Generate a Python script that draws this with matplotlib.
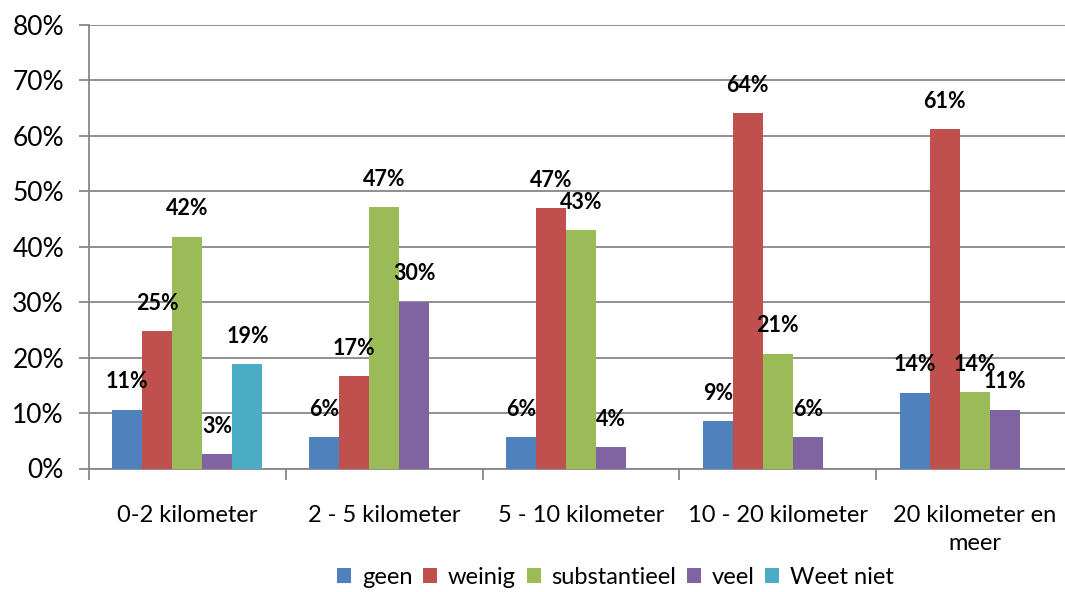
import matplotlib
matplotlib.use("Agg")
import matplotlib.pyplot as plt
import numpy as np

categories = ["0-2 kilometer", "2 - 5 kilometer", "5 - 10 kilometer", "10 - 20 kilometer", "20 kilometer en\nmeer"]
series = ["geen", "weinig", "substantieel", "veel", "Weet niet"]
geen = [10.6, 5.7, 5.7, 8.6, 13.7]
weinig = [24.8, 16.7, 47.0, 64.1, 61.2]
substantieel = [41.8, 47.1, 43.0, 20.7, 13.8]
veel = [2.6, 30.1, 3.8, 5.7, 10.6]
weet_niet = [18.8, None, None, None, None]
labels = {
    "geen": ["11%", "6%", "6%", "9%", "14%"],
    "weinig": ["25%", "17%", "47%", "64%", "61%"],
    "substantieel": ["42%", "47%", "43%", "21%", "14%"],
    "veel": ["3%", "30%", "4%", "6%", "11%"],
    "Weet niet": ["19%", None, None, None, None],
}
yticks = [0, 10, 20, 30, 40, 50, 60, 70, 80]
colors = ["#4F81BD", "#C0504D", "#9BBB59", "#8064A2", "#4BACC6"]

plt.rcParams['font.family'] = ['Lato', 'DejaVu Sans']

fig = plt.figure(figsize=(10.65, 5.92), dpi=100)
ax = fig.add_axes([89/1065, (592-468.5)/592, 984/1065, 443.5/592])

data = [geen, weinig, substantieel, veel, weet_niet]
x = np.arange(len(categories))
bw = 0.1525
grid_c = "#878787"
for i, (name, vals) in enumerate(zip(series, data)):
    xs = x + (i - 2) * bw
    h = [v if v is not None else 0 for v in vals]
    ax.bar(xs, h, width=bw, color=colors[i], label=name, zorder=3, linewidth=0)
    for xi, v, lab in zip(xs, vals, labels[name]):
        if v is None or lab is None:
            continue
        ax.annotate(lab, (xi, v), xytext=(0, 20), textcoords="offset points",
                    ha="center", va="center", fontsize=15.5, fontweight="bold",
                    color="black", zorder=5)

ax.set_xlim(-0.5, 4.5)
ax.set_ylim(0, 80)
ax.set_yticks(yticks)
ax.set_yticklabels([f"{t}%" for t in yticks], fontsize=19)
ax.yaxis.grid(True, color=grid_c, linewidth=1.3, zorder=0)
ax.set_axisbelow(True)
ax.tick_params(axis='y', length=7, width=1.3, color=grid_c, pad=11)
ax.set_xticks(x)
ax.set_xticklabels(categories, fontsize=17, linespacing=1.45, va='top')
ax.tick_params(axis='x', which='major', length=0, pad=26)
ax.set_xticks(np.arange(-0.5, 5.0, 1.0), minor=True)
ax.tick_params(axis='x', which='minor', length=8, width=1.3, color=grid_c)
for s in ["top", "right"]:
    ax.spines[s].set_visible(False)
for s in ["left", "bottom"]:
    ax.spines[s].set_color(grid_c)
    ax.spines[s].set_linewidth(1.3)

fig.legend(loc="center", bbox_to_anchor=(0.578, 0.024), ncol=5, frameon=False,
           fontsize=17, handlelength=0.6, handleheight=0.6, handletextpad=0.45,
           columnspacing=0.45, borderaxespad=0)

fig.savefig("out.png", dpi=100)
